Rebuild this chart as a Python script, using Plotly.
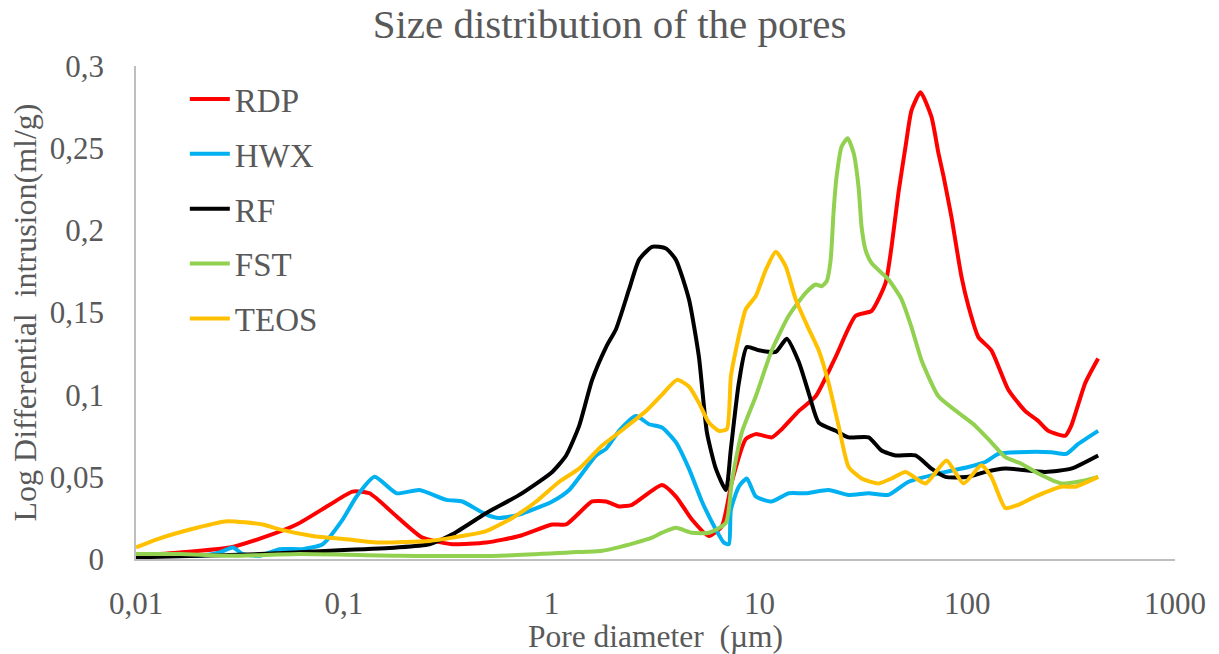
import plotly.graph_objects as go

# ---- data (pore diameter in µm, log differential intrusion in ml/g) ----
rdp_x = [0.01, 0.01626, 0.02829, 0.0407, 0.0593, 0.0855, 0.1102, 0.133, 0.1793, 0.239, 0.333, 0.485,
         0.699, 1.007, 1.175, 1.567, 1.829, 2.112, 2.438, 3.398, 3.968, 4.734, 5.71, 6.60, 7.37, 8.60,
         9.61, 11.47, 12.81, 15.46, 18.66, 23.28, 29.04, 34.67, 40.47, 43.24, 46.7, 50.5, 53.95, 59.6, 67.3,
         72.7, 76.9, 84.0, 93.8, 101.3, 113.2, 130.7, 157.7, 190.3, 219.8, 245.5, 296.3, 316.6, 369.6, 426.8]
rdp_y = [0.002, 0.004, 0.007, 0.013, 0.021, 0.033, 0.041, 0.040, 0.026, 0.013, 0.009, 0.010,
         0.014, 0.021, 0.021, 0.035, 0.035, 0.032, 0.033, 0.045, 0.038, 0.024, 0.014, 0.020, 0.047, 0.073,
         0.076, 0.074, 0.079, 0.090, 0.099, 0.123, 0.148, 0.151, 0.168, 0.190, 0.223, 0.251, 0.273, 0.284, 0.269,
         0.247, 0.233, 0.208, 0.172, 0.154, 0.135, 0.127, 0.103, 0.090, 0.084, 0.078, 0.075, 0.081, 0.107, 0.122]

hwx_x = [0.01, 0.0203, 0.0253, 0.02924, 0.03266, 0.03941, 0.04916, 0.0634, 0.0791, 0.0987, 0.1152, 0.1406,
         0.1793, 0.2312, 0.3118, 0.3720, 0.485, 0.560, 0.699, 1.007, 1.215, 1.637, 1.829, 2.112, 2.548,
         2.943, 3.398, 3.968, 4.58, 5.29, 6.17, 6.745, 7.13, 7.29, 7.96, 8.70, 9.61, 11.47, 13.84, 16.71,
         21.54, 26.88, 33.54, 41.83, 52.2, 72.7, 101.3, 122.3, 141.2, 176.2, 253.8, 299.6, 342.1, 426.8]
hwx_y = [0.002, 0.002, 0.004, 0.007, 0.003, 0.002, 0.006, 0.006, 0.009, 0.024, 0.038, 0.050,
         0.040, 0.042, 0.036, 0.035, 0.027, 0.025, 0.027, 0.035, 0.042, 0.063, 0.067, 0.078, 0.087,
         0.082, 0.080, 0.071, 0.055, 0.035, 0.018, 0.010, 0.009, 0.030, 0.044, 0.049, 0.038, 0.035, 0.040, 0.040,
         0.042, 0.039, 0.040, 0.039, 0.047, 0.052, 0.056, 0.059, 0.064, 0.065, 0.065, 0.064, 0.070, 0.078]

rf_x = [0.01, 0.0203, 0.03941, 0.0855, 0.1793, 0.2583, 0.333, 0.485, 0.699, 1.007, 1.175, 1.357, 1.567,
        1.829, 2.043, 2.359, 2.634, 3.042, 3.551, 3.968, 4.58, 5.116, 5.59, 6.17, 6.90, 7.29, 7.96, 8.70,
        9.93, 11.99, 13.54, 15.46, 17.27, 19.29, 23.28, 26.88, 33.54, 38.71, 45.2, 56.4, 67.3, 78.6,
        101.3, 122.3, 152.6, 237.5, 316.6, 426.8]
rf_y = [0.001, 0.002, 0.003, 0.005, 0.007, 0.009, 0.015, 0.028, 0.039, 0.053, 0.063, 0.081, 0.109,
        0.129, 0.140, 0.164, 0.182, 0.190, 0.189, 0.182, 0.158, 0.123, 0.077, 0.055, 0.042, 0.067, 0.107, 0.129,
        0.127, 0.126, 0.134, 0.120, 0.101, 0.083, 0.078, 0.074, 0.074, 0.066, 0.063, 0.063, 0.055, 0.050,
        0.050, 0.053, 0.055, 0.053, 0.055, 0.063]

fst_x = [0.01, 0.01626, 0.02829, 0.0613, 0.1854, 0.560, 1.215, 1.750, 2.548, 3.042, 3.398, 3.968, 4.734,
         5.71, 6.90, 7.37, 8.23, 9.61, 11.47, 13.84, 16.71, 18.66, 19.94, 21.07, 22.02, 22.77, 23.54, 24.87,
         26.59, 28.41, 30.02, 31.03, 32.43, 34.67, 41.83, 48.3, 53.95, 60.26, 72.7, 90.7, 109.5, 130.7,
         152.6, 182.1, 219.8, 283.5, 342.1, 426.8]
fst_y = [0.003, 0.003, 0.002, 0.003, 0.002, 0.002, 0.004, 0.005, 0.010, 0.013, 0.016, 0.019, 0.016,
         0.016, 0.022, 0.047, 0.077, 0.099, 0.127, 0.148, 0.162, 0.167, 0.166, 0.169, 0.182, 0.212, 0.233, 0.251,
         0.256, 0.247, 0.226, 0.202, 0.188, 0.180, 0.170, 0.158, 0.141, 0.121, 0.099, 0.089, 0.081, 0.071,
         0.062, 0.058, 0.052, 0.046, 0.047, 0.050]

teos_x = [0.01, 0.01262, 0.01963, 0.02736, 0.0407, 0.04916, 0.0708, 0.1031, 0.1486, 0.2583, 0.333, 0.485,
          0.6466, 0.8433, 1.088, 1.357, 1.750, 2.112, 2.847, 3.398, 4.012, 4.58, 5.116, 5.71, 6.38, 6.97,
          7.29, 7.70, 8.60, 9.61, 10.74, 11.99, 13.39, 14.95, 17.27, 19.29, 21.54, 24.06, 26.88, 31.03,
          37.45, 43.24, 50.5, 63.0, 79.5, 95.9, 117.0, 130.7, 152.6, 176.2, 212.6, 283.5, 331.0, 426.8]
teos_y = [0.007, 0.012, 0.019, 0.023, 0.021, 0.018, 0.014, 0.012, 0.010, 0.011, 0.013, 0.017,
          0.025, 0.035, 0.047, 0.055, 0.069, 0.077, 0.090, 0.100, 0.109, 0.105, 0.095, 0.083, 0.078, 0.079,
          0.111, 0.127, 0.152, 0.160, 0.176, 0.187, 0.178, 0.158, 0.140, 0.127, 0.107, 0.081, 0.056, 0.049,
          0.046, 0.049, 0.053, 0.046, 0.060, 0.046, 0.057, 0.050, 0.031, 0.033, 0.038, 0.044, 0.044, 0.050]

series = [
    ("RDP", rdp_x, rdp_y, "#FF0000"),
    ("HWX", hwx_x, hwx_y, "#00B0F0"),
    ("RF", rf_x, rf_y, "#000000"),
    ("FST", fst_x, fst_y, "#92D050"),
    ("TEOS", teos_x, teos_y, "#FFC000"),
]

x_tickvals = [0.01, 0.1, 1, 10, 100, 1000]
x_ticktext = ["0,01", "0,1", "1", "10", "100", "1000"]
y_tickvals = [0, 0.05, 0.1, 0.15, 0.2, 0.25, 0.3]
y_ticktext = ["0", "0,05", "0,1", "0,15", "0,2", "0,25", "0,3"]

FONT = "Liberation Serif, Times New Roman, serif"
GREY = "#595959"

fig = go.Figure()
for name, xs, ys, col in series:
    fig.add_trace(go.Scatter(
        x=xs, y=ys, name=name, mode="lines", legendgroup=name,
        line=dict(color=col, width=4, shape="spline", smoothing=0.55),
    ))

fig.update_layout(
    width=1219, height=654,
    margin=dict(l=136, r=44, t=66, b=95),
    paper_bgcolor="white", plot_bgcolor="white",
    font=dict(family=FONT, color=GREY, size=31),
    title=dict(text="Size distribution of the pores", x=0.5, xanchor="center",
               y=1 - 24 / 654, yanchor="middle", font=dict(family=FONT, size=41, color=GREY)),
    showlegend=True,
    legend=dict(x=0.047, y=0.99, xanchor="left", yanchor="top", bgcolor="rgba(0,0,0,0)",
                font=dict(family=FONT, size=33, color=GREY), tracegroupgap=9,
                itemwidth=40),
)
fig.update_xaxes(
    type="log", range=[-2, 3], tickvals=x_tickvals, ticktext=x_ticktext, automargin=False,
    showgrid=False, zeroline=False, showline=True, linecolor="#BFBFBF", linewidth=1.5,
    ticks="", ticklabelstandoff=16, tickfont=dict(family=FONT, size=31, color=GREY),
    title=dict(text="Pore diameter  (µm)", font=dict(family=FONT, size=31.5, color=GREY), standoff=4),
)
fig.update_yaxes(
    range=[0, 0.3], tickvals=y_tickvals, ticktext=y_ticktext, automargin=False,
    showgrid=False, zeroline=False, showline=True, linecolor="#BFBFBF", linewidth=1.5,
    ticks="", ticklabelstandoff=24, tickfont=dict(family=FONT, size=31, color=GREY),
    title=dict(text="Log Differential  intrusion(ml/g)", font=dict(family=FONT, size=32, color=GREY), standoff=4),
)

fig.write_html("out.html", post_script="document.body.style.margin='0';",
               config={"displayModeBar": False})
